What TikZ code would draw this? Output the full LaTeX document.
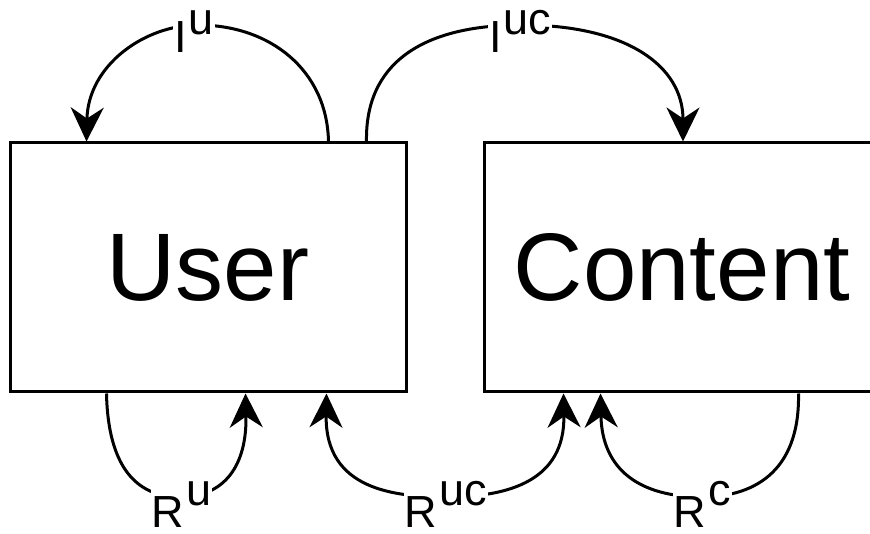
\documentclass[tikz,border=0pt]{standalone}
\usepackage{fontspec}
\setmainfont{Liberation Sans}
\usetikzlibrary{arrows.meta}
% raised index letters next to a symbol
\newcommand\hiscript[2][18pt]{\kern2pt\raisebox{#1}{#2}}

\begin{document}
\begin{tikzpicture}[x=1pt, y=-1pt,
  >={Stealth[length=34pt, width=33pt, inset=11pt]},
  box/.style={draw, line width=3pt, minimum width=396pt, minimum height=249pt,
    inner sep=0pt, font=\fontsize{96}{96}\selectfont},
  flow/.style={line width=3pt},
  lbl/.style={fill=white, inner sep=1pt, anchor=base west,
    font=\fontsize{45}{45}\selectfont}]
\clip (0,0) rectangle (870,534);

% the two entities
\node[box] (user)    at (208,267.5) {User};
\node[box] (content) at (682,267.5) {Content};

% points where the loops pass under their labels
\coordinate (ku)  at (198,25);
\coordinate (kuc) at (522,25);
\coordinate (ru)  at (180,497);
\coordinate (ruc) at (447,497);
\coordinate (rc)  at (702,497);

% I^u : user to user, over the top
\draw[flow, ->] ([xshift=-79pt]user.north east)
  .. controls (327,70) and (270,25) .. (ku)
  .. controls (145,25) and (88,65) .. ([xshift=78pt]user.north west);

% I^uc : user to content, over the top
\draw[flow, ->] ([xshift=-41pt]user.north east)
  .. controls (365,65) and (420,25) .. (kuc)
  .. controls (625,25) and (683,65) .. ([xshift=1pt]content.north);

% R^u : user to user, underneath
\draw[flow, ->] ([xshift=98pt]user.south west)
  .. controls (108,465) and (135,497) .. (ru)
  .. controls (225,497) and (247,465) .. ([xshift=237pt]user.south west);

% R^uc : between user and content, underneath
\draw[flow, <->] ([xshift=-81pt]user.south east)
  .. controls (325,490) and (395,497) .. (ruc)
  .. controls (510,497) and (565,480) .. ([xshift=81pt]content.south west);

% R^c : content to content, underneath
\draw[flow, ->] ([xshift=316pt]content.south west)
  .. controls (800,475) and (750,497) .. (rc)
  .. controls (640,497) and (602,470) .. ([xshift=118pt]content.south west);

% labels
\node[lbl] (liu)  at (173,53)  {I\hiscript{u}};
\node[lbl] (liuc) at (488,53)  {I\hiscript{uc}};
\node[lbl] (lru)  at (150.5,527) {R\hiscript[22pt]{u}};
\node[lbl] (lruc) at (403.5,527) {R\hiscript[22pt]{uc}};
\node[lbl] (lrc)  at (672.5,527) {R\hiscript[22pt]{c}};
\end{tikzpicture}
\end{document}
